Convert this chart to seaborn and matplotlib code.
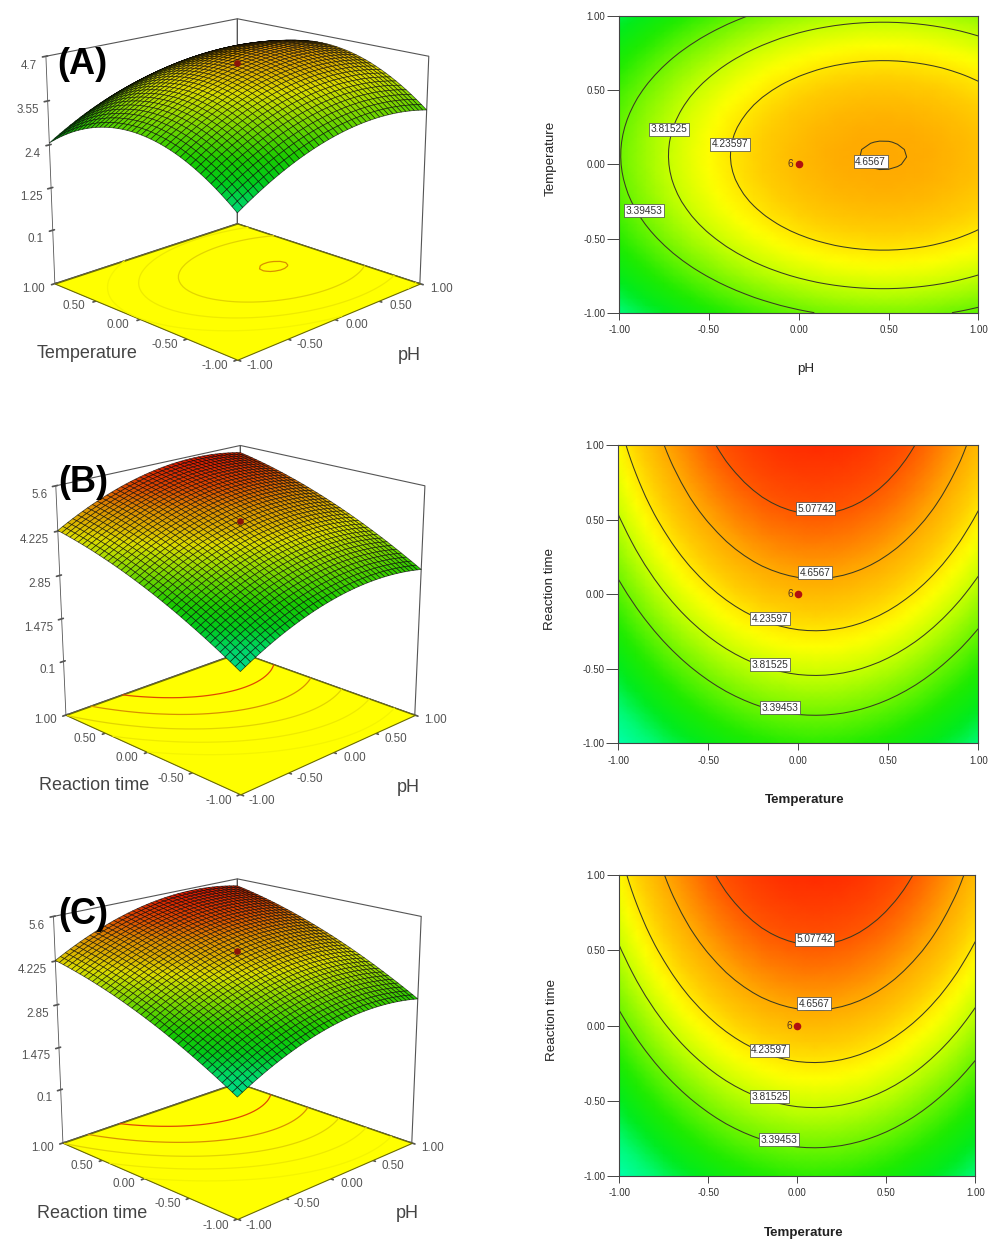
import numpy as np
import pandas as pd
import matplotlib
matplotlib.use("Agg")
import matplotlib.pyplot as plt
from matplotlib.colors import LinearSegmentedColormap, Normalize
from mpl_toolkits.mplot3d import proj3d
import seaborn as sns

sns.set_theme(style="white")
plt.rcParams["font.family"] = ["Liberation Sans", "DejaVu Sans"]

W, H = 991, 1241

# coded factor level at each sampled column/row (-1.00 ... 1.00 in 0.05 steps)
n_levels = 41
factor = np.linspace(-1, 1, n_levels)

# response lost when moving away from the optimum
ph_drop = [1.286, 1.200, 1.117, 1.037, 0.960, 0.886, 0.814, 0.746, 0.681, 0.619, 0.560,
           0.504, 0.450, 0.400, 0.353, 0.308, 0.267, 0.229, 0.193, 0.161, 0.131,
           0.105, 0.081, 0.061, 0.043, 0.0288, 0.0172, 0.0086, 0.0029, 0.0002, 0.0005,
           0.0038, 0.0101, 0.0193, 0.0315, 0.0466, 0.0648, 0.0859, 0.110, 0.137, 0.167]
temp_drop_a = [1.185, 1.076, 0.972, 0.874, 0.780, 0.692, 0.609, 0.532, 0.460, 0.393, 0.331,
               0.274, 0.223, 0.177, 0.137, 0.101, 0.071, 0.047, 0.0270, 0.0128, 0.0038,
               0.0001, 0.0017, 0.0085, 0.0207, 0.038, 0.061, 0.089, 0.122, 0.160, 0.204,
               0.253, 0.308, 0.367, 0.432, 0.502, 0.578, 0.658, 0.744, 0.836, 0.932]
temp_drop_b = [1.259, 1.147, 1.040, 0.938, 0.841, 0.750, 0.664, 0.583, 0.507, 0.437, 0.372,
               0.312, 0.257, 0.208, 0.164, 0.125, 0.091, 0.063, 0.040, 0.022, 0.009,
               0.002, 0.000, 0.003, 0.012, 0.025, 0.044, 0.068, 0.098, 0.132, 0.172,
               0.217, 0.268, 0.323, 0.384, 0.450, 0.522, 0.599, 0.680, 0.768, 0.860]
time_response = [3.073, 3.161, 3.247, 3.331, 3.415, 3.497, 3.577, 3.656, 3.733, 3.808, 3.882,
                 3.955, 4.026, 4.096, 4.164, 4.230, 4.295, 4.359, 4.421, 4.481, 4.540,
                 4.597, 4.653, 4.707, 4.761, 4.812, 4.862, 4.910, 4.956, 5.001, 5.046,
                 5.088, 5.129, 5.168, 5.205, 5.241, 5.275, 5.309, 5.341, 5.371, 5.399]
peak_a = 4.667
ph_gain_at_centre = 0.131
centre_response = 4.54

contour_levels = [3.39453, 3.81525, 4.23597, 4.6567, 5.07742]
floor_line_colours = ["#f4f400", "#eeea00", "#e2d400", "#d89000", "#e04800"]

factor_ticks = [-1.0, -0.5, 0.0, 0.5, 1.0]
factor_tick_labels = ["-1.00", "-0.50", "0.00", "0.50", "1.00"]
z_ticks_a = [0.1, 1.25, 2.4, 3.55, 4.7]
z_labels_a = ["0.1", "1.25", "2.4", "3.55", "4.7"]
z_ticks_bc = [0.1, 1.475, 2.85, 4.225, 5.6]
z_labels_bc = ["0.1", "1.475", "2.85", "4.225", "5.6"]

labels_a = {"3.39453": (-0.861, -0.312), "3.81525": (-0.723, 0.238),
            "4.23597": (-0.383, 0.137), "4.6567": (0.40, 0.018)}
labels_bc = {"3.39453": (-0.102, -0.76), "3.81525": (-0.156, -0.474),
             "4.23597": (-0.156, -0.165), "4.6567": (0.094, 0.145),
             "5.07742": (0.096, 0.574)}

colour_values = [1.8, 2.2, 2.6, 3.0, 3.4, 3.8, 4.1, 4.4, 4.7, 5.1, 5.5]
colour_stops = ["#00ffaa", "#00fa78", "#00eb1e", "#1eeb00", "#6ef500", "#c3ff00",
                "#ffff00", "#ffcd00", "#ffa500", "#ff5500", "#ff1e00"]

norm = Normalize(1.8, 5.5)
cmap = LinearSegmentedColormap.from_list(
    "response", [((v - 1.8) / 3.7, c) for v, c in zip(colour_values, colour_stops)])

surface_a = peak_a - np.array(temp_drop_a)[:, None] - np.array(ph_drop)[None, :]
contour_bc = np.array(time_response)[:, None] - np.array(temp_drop_b)[None, :]
surface_bc = np.array(time_response)[:, None] + ph_gain_at_centre - np.array(ph_drop)[None, :]


def rect(x0, y0, x1, y1):
    return [x0 / W, 1 - y1 / H, (x1 - x0) / W, (y1 - y0) / H]


def to_index(v):
    return (np.asarray(v) + 1) * (n_levels - 1) / 2


def contour_panel(fig, box, Z, xlabel, ylabel, names, xlab_xy, ylab_xy, xbold):
    ax = fig.add_axes(rect(*box))
    frame = pd.DataFrame(Z, index=factor, columns=factor)
    sns.heatmap(frame, ax=ax, cmap=cmap, norm=norm, cbar=False, shading="gouraud",
                xticklabels=False, yticklabels=False)
    ax.set_xlim(0, n_levels - 1)
    ax.set_ylim(0, n_levels - 1)
    ax.contour(Z, levels=contour_levels, colors="#3a3a22", linewidths=0.75)
    for name, (lx, ly) in names.items():
        ax.text(to_index(lx), to_index(ly), name, fontsize=7.3, color="#333333",
                ha="center", va="center", zorder=6,
                bbox=dict(fc="white", ec="#444444", lw=0.5, pad=1.1))
    ax.scatter(to_index([0.0]), to_index([0.0]), s=20, color="#b01010", zorder=7)
    ax.text(to_index(-0.045), to_index(0.0), "6", fontsize=7.3, color="#553322",
            ha="center", va="center", zorder=7)
    ax.set_xticks(to_index(factor_ticks))
    ax.set_yticks(to_index(factor_ticks))
    ax.set_xticklabels(factor_tick_labels)
    ax.set_yticklabels(factor_tick_labels, rotation=0)
    ax.tick_params(axis="x", length=5, width=0.7, color="#444444", labelsize=7,
                   labelcolor="#333333", pad=4, bottom=True)
    ax.tick_params(axis="y", length=9, width=0.7, color="#444444", labelsize=7,
                   labelcolor="#333333", pad=1, left=True)
    for s in ax.spines.values():
        s.set_visible(True)
        s.set_color("#444444")
        s.set_linewidth(0.8)
    ax.set_xlabel(xlabel, fontsize=9.6, color="#222222",
                  fontweight="bold" if xbold else "normal", va="center")
    ax.set_ylabel(ylabel, fontsize=9.6, color="#222222", va="center")
    x0, y0, x1, y1 = box
    ax.xaxis.set_label_coords((xlab_xy[0] - x0) / (x1 - x0), (y1 - xlab_xy[1]) / (y1 - y0))
    ax.yaxis.set_label_coords((ylab_xy[0] - x0) / (x1 - x0), (y1 - ylab_xy[1]) / (y1 - y0))
    return ax


def surface_panel(fig, centre, side, zoom, aspect, elev, focal, Z, zlim, zticks, zlabels, px_per_z,
                  design, letter, letter_xy, ylab, ylab_xy, xlab_xy):
    cx, cy = centre
    ax = fig.add_axes(rect(cx - side / 2, cy - side / 2, cx + side / 2, cy + side / 2),
                      projection="3d", computed_zorder=False)
    ax.patch.set_alpha(0)
    X, Y = np.meshgrid(factor, factor)
    ax.set_proj_type("persp", focal_length=focal)
    ax.view_init(elev=elev, azim=-135)
    ax.set_box_aspect((1, 1, aspect), zoom=zoom)
    ax.set_xlim(-1, 1, view_margin=0)
    ax.set_ylim(-1, 1, view_margin=0)
    ax.set_zlim(zlim[0], zlim[1], view_margin=0)
    ax.grid(False)
    for a in (ax.xaxis, ax.yaxis, ax.zaxis):
        a.set_pane_color((1, 1, 1, 0))
        a.pane.set_alpha(None)
        a.pane.set_facecolor((1, 1, 1, 0))
        a.pane.set_edgecolor("#555555")
        a.pane.set_linewidth(0.8)
        a.line.set_color("#555555")
        a.line.set_linewidth(0.6)
    ax.set_xticks(factor_ticks)
    ax.set_yticks(factor_ticks)
    ax.set_zticks(zticks)
    ax.set_xticklabels([])
    ax.set_yticklabels([])
    ax.set_zticklabels([])
    ax.tick_params(color="#555555")

    proj = ax.get_proj()
    tick_style = dict(fontsize=8.4, color="#555555", va="center", zorder=6, transform=ax.transData)

    def tick_text(x, y, z, s, ha):
        px, py, _ = proj3d.proj_transform(x, y, z, proj)
        ax.text2D(px, py, s, ha=ha, **tick_style)

    for v, s in zip(factor_ticks, factor_tick_labels):
        tick_text(v + 0.033, -1.185, zlim[0], s, "center")
        tick_text(-1.185, v + 0.033, zlim[0], s, "center")
    for v, s in zip(zticks, zlabels):
        tick_text(-1.049, 1.049, v - 9 / px_per_z, s, "right")
    ax.plot([1.0, 1.0], [-1.0, -1.0], zlim, color="#555555", linewidth=0.8, zorder=0)
    fx = np.array([[-1.0, 1.0], [-1.0, 1.0]])
    fy = np.array([[-1.0, -1.0], [1.0, 1.0]])
    ax.plot_surface(fx, fy, np.full((2, 2), zlim[0]), color="#ffff00", shade=False,
                    edgecolor="#6e6e00", linewidth=0.8, zorder=1)
    ax.contour(X, Y, Z, levels=contour_levels, zdir="z", offset=zlim[0],
               colors=floor_line_colours, linewidths=0.9, zorder=2)
    faces = cmap(norm(Z))
    faces[..., :3] *= 0.86
    ax.plot_surface(X, Y, Z, rstride=1, cstride=1, facecolors=faces, shade=False,
                    edgecolor=(0, 0, 0, 0.7), linewidth=0.5, zorder=3)
    ax.scatter([0.0], [0.0], [design], s=14, color="#8a1408", depthshade=False, zorder=5)
    fig.text(letter_xy[0] / W, 1 - letter_xy[1] / H, letter, fontsize=26, fontweight="bold",
             color="black", ha="center", va="center")
    fig.text(ylab_xy[0] / W, 1 - ylab_xy[1] / H, ylab, fontsize=13, color="#444444",
             ha="center", va="center")
    fig.text(xlab_xy[0] / W, 1 - xlab_xy[1] / H, "pH", fontsize=13, color="#444444",
             ha="center", va="center")
    return ax


fig = plt.figure(figsize=(W / 100, H / 100), dpi=100, facecolor="white")

surface_panel(fig, (231, 179), 470, 0.915, 0.90, 17.2, 0.58, surface_a, (-1.38, 4.7), z_ticks_a, z_labels_a,
              37.8, centre_response, "(A)", (82, 65), "Temperature", (87, 354), (409, 355))
surface_panel(fig, (234, 610), 470, 0.894, 0.955, 19, 0.55, surface_bc, (-1.68, 5.6), z_ticks_bc, z_labels_bc,
              32, centre_response, "(B)", (83, 483), "Reaction time", (94, 786), (408, 787))
surface_panel(fig, (231, 1039), 470, 0.888, 0.94, 18, 0.55, surface_bc, (-1.68, 5.6), z_ticks_bc, z_labels_bc,
              32, centre_response, "(C)", (83, 915), "Reaction time", (92, 1213), (407, 1214))

contour_panel(fig, (619.3, 16, 978.3, 312.7), surface_a, "pH", "Temperature", labels_a,
              (806, 369), (551, 158), False)
contour_panel(fig, (618.3, 445, 978.3, 743.3), contour_bc, "Temperature", "Reaction time", labels_bc,
              (805, 800), (550, 589), True)
contour_panel(fig, (619.3, 875.3, 975.3, 1176), contour_bc, "Temperature", "Reaction time", labels_bc,
              (804, 1233), (552, 1020), True)

fig.savefig("out.png", dpi=100)
